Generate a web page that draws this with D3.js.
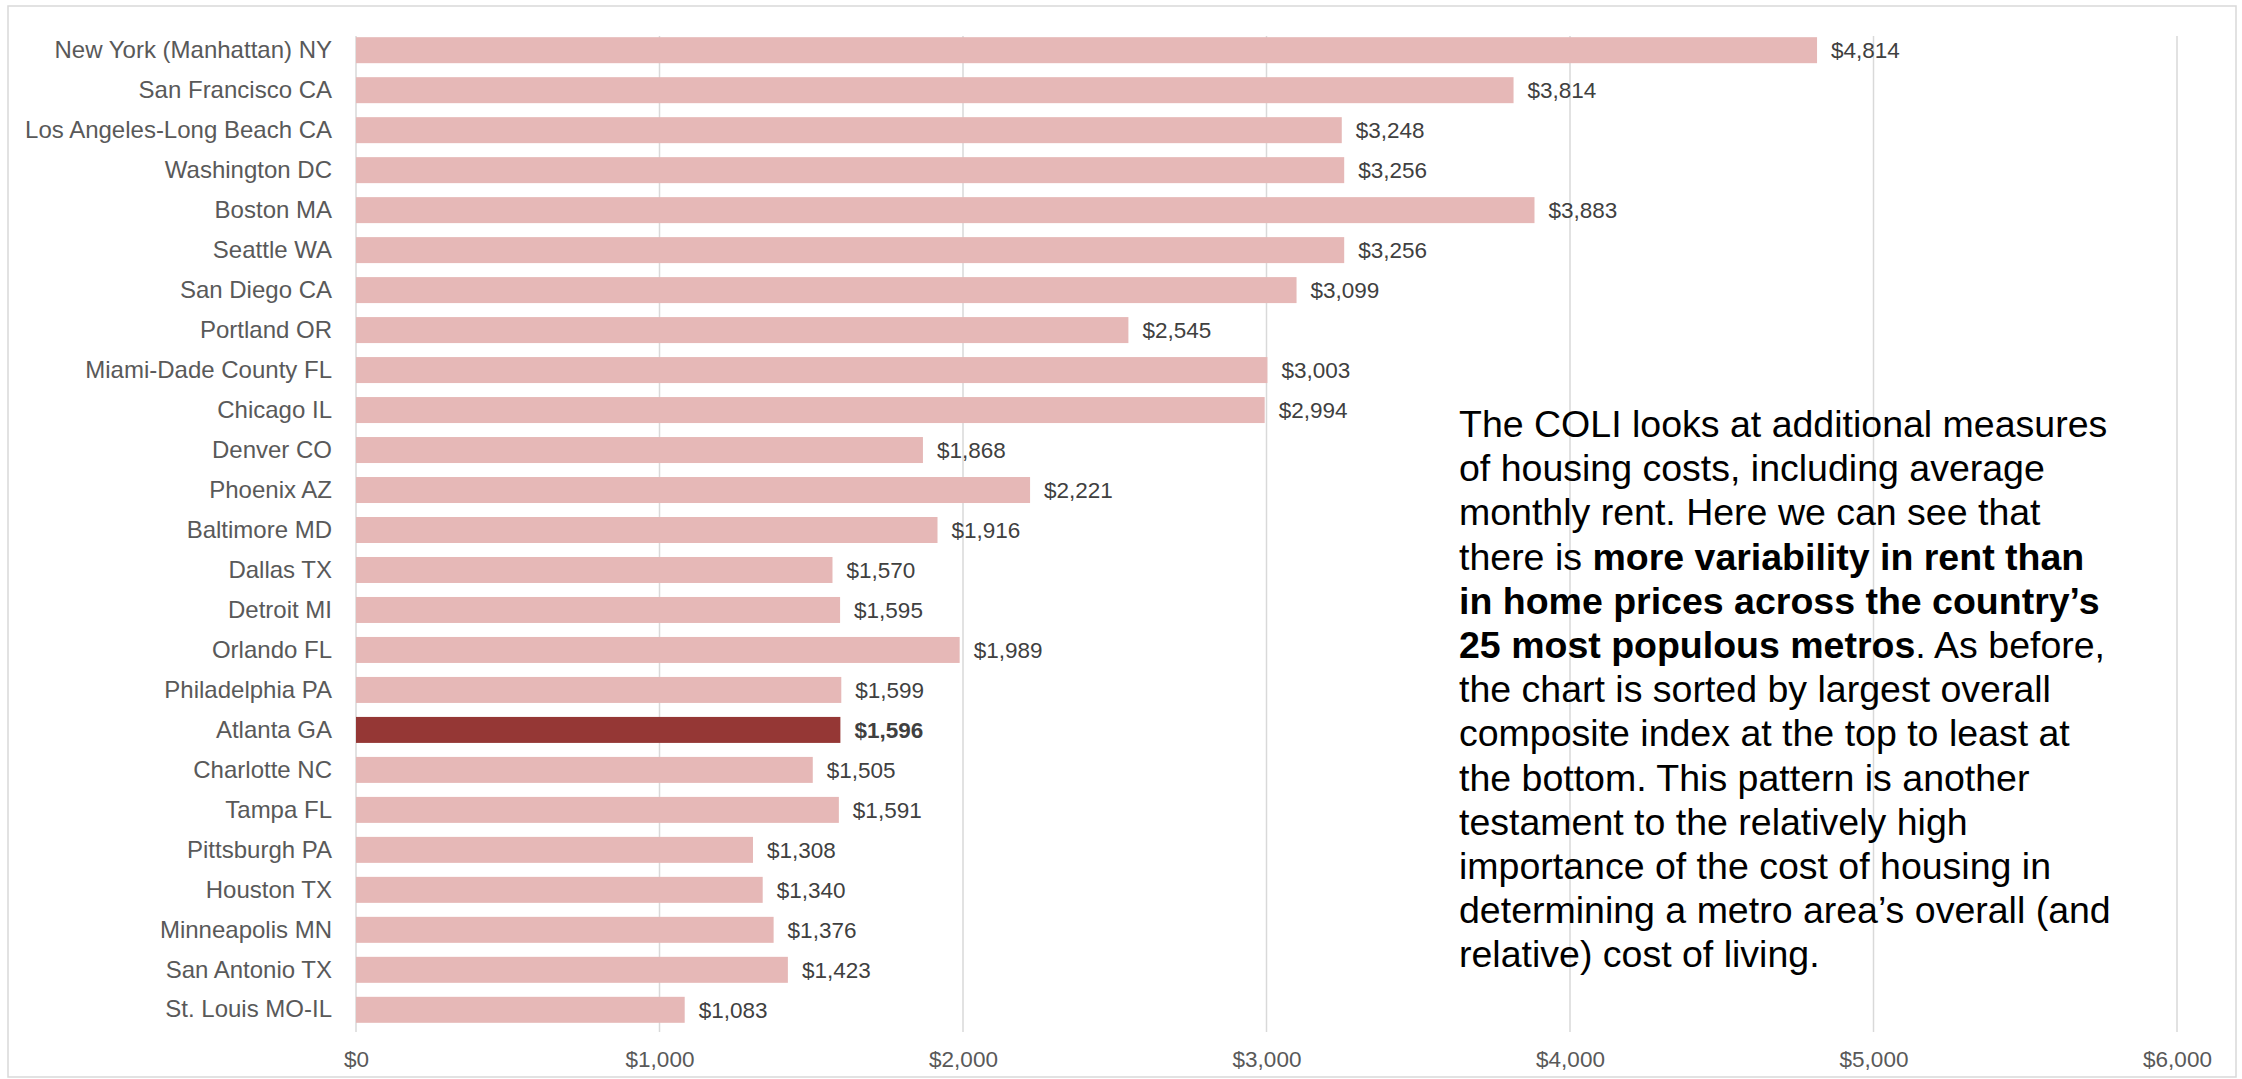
<!DOCTYPE html>
<html>
<head>
<meta charset="utf-8">
<script src="https://cdn.jsdelivr.net/npm/d3@7"></script>
<style>
body { margin: 0; background: #fff; }
text { font-family: "Liberation Sans", Arial, sans-serif; }
</style>
</head>
<body>
<script>
var metros = ["New York (Manhattan) NY", "San Francisco CA", "Los Angeles-Long Beach CA", "Washington DC",
    "Boston MA", "Seattle WA", "San Diego CA", "Portland OR", "Miami-Dade County FL", "Chicago IL",
    "Denver CO", "Phoenix AZ", "Baltimore MD", "Dallas TX", "Detroit MI", "Orlando FL",
    "Philadelphia PA", "Atlanta GA", "Charlotte NC", "Tampa FL", "Pittsburgh PA", "Houston TX",
    "Minneapolis MN", "San Antonio TX", "St. Louis MO-IL"];
var rent = [4814, 3814, 3248, 3256, 3883, 3256, 3099, 2545, 3003, 2994,
    1868, 2221, 1916, 1570, 1595, 1989, 1599, 1596, 1505, 1591, 1308, 1340,
    1376, 1423, 1083];
var highlight = "Atlanta GA";
var xTicks = [0, 1000, 2000, 3000, 4000, 5000, 6000];

var noteLines = [
    [["The COLI looks at additional measures", false]],
    [["of housing costs, including average", false]],
    [["monthly rent. Here we can see that", false]],
    [["there is ", false], ["more variability in rent than", true]],
    [["in home prices across the country\u2019s", true]],
    [["25 most populous metros", true], [". As before,", false]],
    [["the chart is sorted by largest overall", false]],
    [["composite index at the top to least at", false]],
    [["the bottom. This pattern is another", false]],
    [["testament to the relatively high", false]],
    [["importance of the cost of housing in", false]],
    [["determining a metro area\u2019s overall (and", false]],
    [["relative) cost of living.", false]]
];

var w = 2242, h = 1079;
var svg = d3.select("body").append("svg")
    .attr("width", w)
    .attr("height", h);

svg.append("rect")
    .attr("x", 8).attr("y", 6)
    .attr("width", 2228).attr("height", 1071)
    .style("fill", "none")
    .style("stroke", "#d9d9d9")
    .style("stroke-width", 1.5);

var x = d3.scaleLinear().domain([0, 6000]).range([356, 2177]);
var y = d3.scaleBand().domain(metros).range([30, 1030]).paddingInner(0.35).paddingOuter(0.18);

// gridlines
svg.selectAll(".grid")
    .data(xTicks)
    .enter()
    .append("line")
    .attr("x1", function(d) { return x(d); })
    .attr("x2", function(d) { return x(d); })
    .attr("y1", 36)
    .attr("y2", 1032)
    .style("stroke", "#d9d9d9")
    .style("stroke-width", 1.5);

// x axis labels
var xAxis = d3.axisBottom(x)
    .tickValues(xTicks)
    .tickSize(0)
    .tickPadding(0)
    .tickFormat(function(d) { return "$" + d3.format(",")(d); });

var gx = svg.append("g")
    .attr("transform", "translate(0,1051)")
    .call(xAxis);
gx.select(".domain").remove();
gx.selectAll("text")
    .style("font-size", "22.5px")
    .style("fill", "#595959")
    .style("font-family", "'Liberation Sans', Arial, sans-serif");

// bars
svg.selectAll(".bar")
    .data(metros)
    .enter()
    .append("rect")
    .attr("x", x(0))
    .attr("y", function(d) { return y(d); })
    .attr("width", function(d, i) { return x(rent[i]) - x(0); })
    .attr("height", y.bandwidth())
    .style("fill", function(d) { return d === highlight ? "#953735" : "#e6b8b7"; });

// y axis labels
var yAxis = d3.axisLeft(y).tickSize(0).tickPadding(24);
var gy = svg.append("g")
    .attr("transform", "translate(" + x(0) + ",0)")
    .call(yAxis);
gy.select(".domain").remove();
gy.selectAll("text")
    .style("font-size", "24px")
    .style("fill", "#595959")
    .style("font-family", "'Liberation Sans', Arial, sans-serif");

// value labels
svg.selectAll(".val")
    .data(metros)
    .enter()
    .append("text")
    .attr("x", function(d, i) { return x(rent[i]) + 14; })
    .attr("y", function(d) { return y(d) + y.bandwidth() / 2; })
    .attr("dy", "0.35em")
    .text(function(d, i) { return "$" + d3.format(",")(rent[i]); })
    .style("font-size", "22.5px")
    .style("font-weight", function(d) { return d === highlight ? "bold" : "normal"; })
    .style("fill", "#404040");

// annotation
var note = svg.append("text")
    .attr("x", 1459)
    .attr("y", 437)
    .style("font-size", "37.5px")
    .style("fill", "#000");

noteLines.forEach(function(line, i) {
    line.forEach(function(part, j) {
        var t = note.append("tspan").text(part[0])
            .style("font-weight", part[1] ? "bold" : "normal");
        if (j === 0) t.attr("x", 1459).attr("y", 437 + i * 44.2);
    });
});
</script>
</body>
</html>
